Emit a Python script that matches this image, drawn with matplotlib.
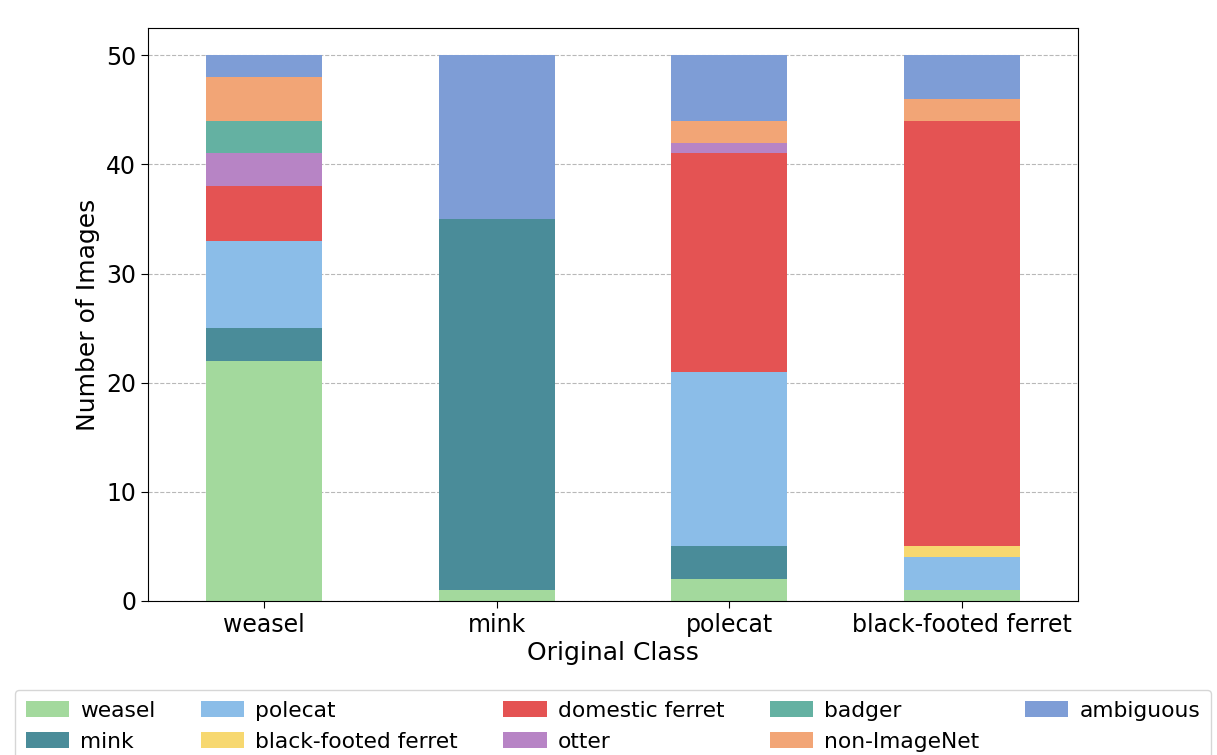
import numpy as np
import matplotlib.pyplot as plt

classes = ['weasel', 'mink', 'polecat', 'black-footed ferret']

# counts per predicted label, one entry per original class
weasel = [22, 1, 2, 1]
mink = [3, 34, 3, 0]
polecat = [8, 0, 16, 3]
black_footed_ferret = [0, 0, 0, 1]
domestic_ferret = [5, 0, 20, 39]
otter = [3, 0, 1, 0]
badger = [3, 0, 0, 0]
non_imagenet = [4, 0, 2, 2]
ambiguous = [2, 15, 6, 4]

labels = ['weasel', 'mink', 'polecat', 'black-footed ferret', 'domestic ferret',
          'otter', 'badger', 'non-ImageNet', 'ambiguous']
series = [weasel, mink, polecat, black_footed_ferret, domestic_ferret,
          otter, badger, non_imagenet, ambiguous]
colors = ['#a3d99d', '#4a8c99', '#8bbde8', '#f7d870', '#e45353',
          '#b784c5', '#64b1a2', '#f2a576', '#7e9dd6']

fig = plt.figure(figsize=(12.17, 7.55), dpi=100)
ax = fig.add_axes([0.1216, 0.204, 0.7642, 0.759])

x = np.arange(len(classes))
bottom = np.zeros(len(classes))
for vals, lab, col in zip(series, labels, colors):
    ax.bar(x, vals, width=0.5, bottom=bottom, color=col, label=lab, zorder=2)
    bottom += np.array(vals)

ax.set_xlim(-0.5, 3.5)
ax.set_ylim(0, 52.5)
ax.set_xticks(x)
ax.set_xticklabels(classes)
ax.set_yticks([0, 10, 20, 30, 40, 50])
ax.tick_params(labelsize=17, length=5)
ax.yaxis.grid(True, linestyle='--', color='#b8b8b8', zorder=0)
ax.set_axisbelow(True)
ax.set_xlabel('Original Class', fontsize=18, labelpad=3)
ax.set_ylabel('Number of Images', fontsize=18)

handles, lbls = ax.get_legend_handles_labels()
fig.legend(handles, lbls, loc='upper left', ncol=5, mode='expand',
           bbox_to_anchor=(0.012, -0.1, 0.983, 0.1861), fontsize=15.7,
           handlelength=2.0, handleheight=0.75, borderaxespad=0,
           labelspacing=0.5, handletextpad=0.5, borderpad=0.5)

fig.savefig('out.png', dpi=100)
